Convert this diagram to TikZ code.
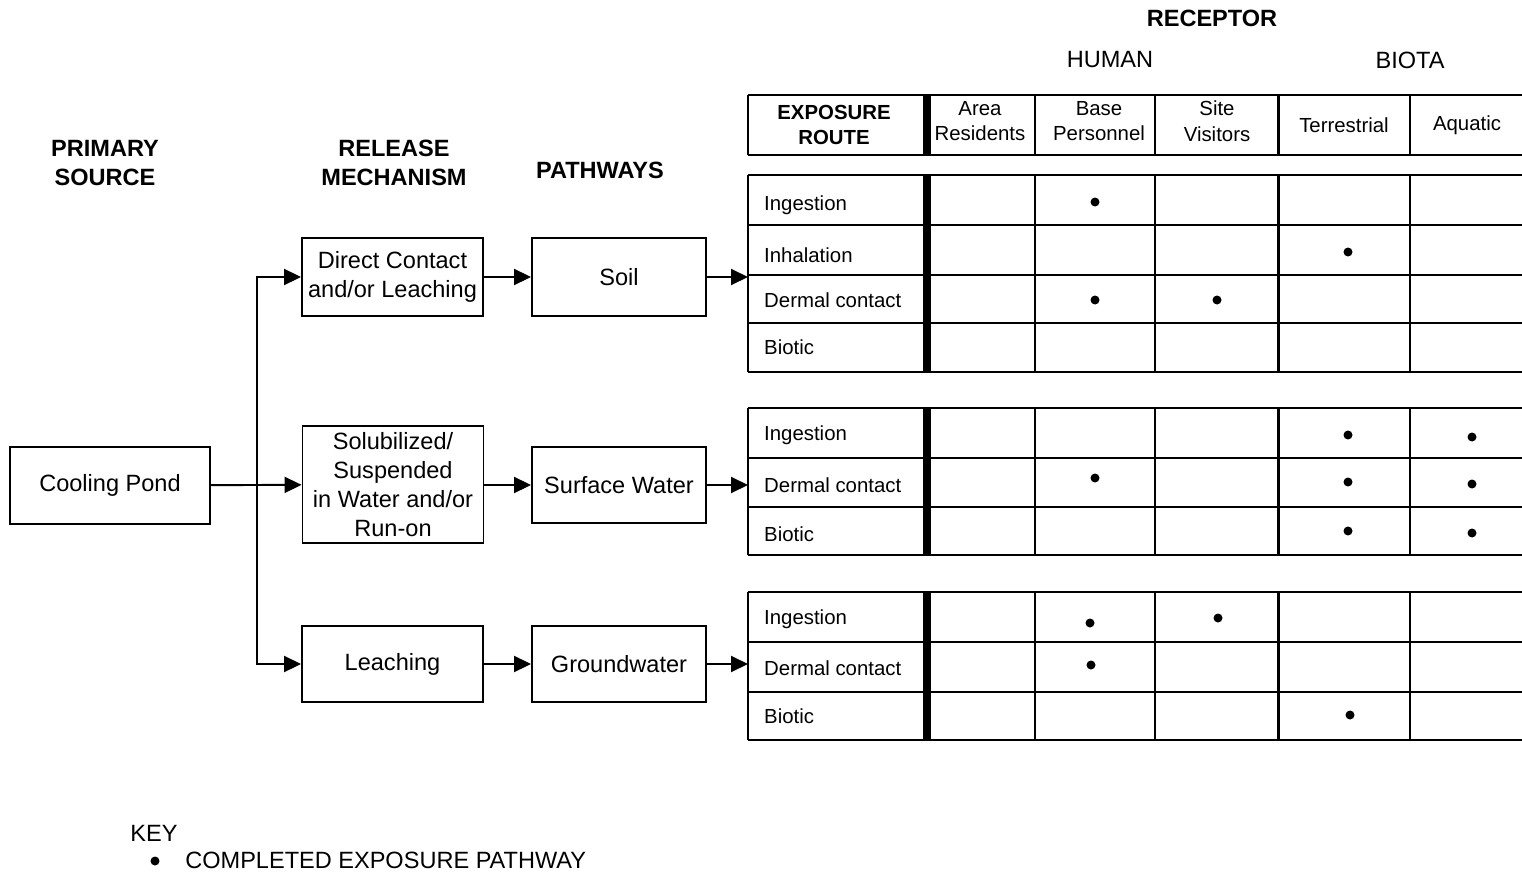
\documentclass[tikz,border=0pt]{standalone}
\usepackage{fontspec}
\setmainfont{Liberation Sans}
\usetikzlibrary{arrows.meta, positioning}

\begin{document}
\begin{tikzpicture}[
        x=0.02cm, y=-0.02cm,
        box/.style = {draw, line width=1.1pt, align=center, inner sep=1pt, font=\fontsize{13.4}{16.4}\selectfont},
        kopf/.style = {align=center, font=\bfseries\fontsize{13.4}{16.5}\selectfont},
        zelle/.style = {align=center, font=\fontsize{11.6}{14.7}\selectfont},
        route/.style = {anchor=west, font=\fontsize{11.6}{14}\selectfont},
        pfeil/.style = {-{Triangle[length=0.34cm, width=0.32cm]}, line width=1.1pt},
        linie/.style = {line width=1.1pt},
        balken/.style = {line width=4pt},
        mittel/.style = {line width=1.7pt},
        punkt/.style = {circle, fill, inner sep=0pt, minimum size=0.18cm, node contents={}}
    ]
    \useasboundingbox (0,0) rectangle (1522,872);

    %Ueberschriften
    \node (receptor) at (1212,18)[kopf]{RECEPTOR};
    \node (human) at (1110,60)[kopf, font=\fontsize{13.4}{16.5}\selectfont]{HUMAN};
    \node (biota) at (1410,60)[kopf, font=\fontsize{13.4}{16.5}\selectfont]{BIOTA};
    \node (source) at (105,163)[kopf]{PRIMARY\\SOURCE};
    \node (release) at (394,163)[kopf]{RELEASE\\MECHANISM};
    \node (pathways) at (600,170)[kopf]{PATHWAYS};

    %Kaesten
    \node (pond) at (110,485.5)[box, minimum width=4cm, minimum height=1.54cm]{Cooling Pond};
    \node (rel1) at (392.5,277)[box, minimum width=3.62cm, minimum height=1.56cm]{Direct Contact\\and/or Leaching};
    \node (rel2) at (393,484.5)[box, minimum width=3.62cm, minimum height=2.34cm]{Solubilized/\\Suspended\\in Water and/or\\Run-on};
    \node (rel3) at (392.5,664)[box, minimum width=3.62cm, minimum height=1.52cm]{Leaching};
    \node (soil) at (619,277)[box, minimum width=3.48cm, minimum height=1.56cm]{Soil};
    \node (water) at (619,485)[box, minimum width=3.48cm, minimum height=1.52cm]{Surface Water};
    \node (ground) at (619,664)[box, minimum width=3.48cm, minimum height=1.52cm]{Groundwater};

    \coordinate (bus) at (257,485.5);
    \coordinate (tab1) at (748,277);
    \coordinate (tab2) at (748,485);
    \coordinate (tab3) at (748,664);

    %Pfeile
    \draw[pfeil] (pond) -- (rel2);
    \draw[pfeil] (bus) |- (rel1.west);
    \draw[pfeil] (bus) |- (rel3.west);
    \draw[pfeil] (rel1) -- (soil);
    \draw[pfeil] (rel2.east |- water) -- (water);
    \draw[pfeil] (rel3) -- (ground);
    \draw[pfeil] (soil) -- (tab1);
    \draw[pfeil] (water) -- (tab2);
    \draw[pfeil] (ground) -- (tab3);

    %Tabellenkopf
    \foreach \y in {95,155} \draw[linie] (748,\y) -- (1522,\y);
    \foreach \x in {748,1035,1155,1410} \draw[linie] (\x,95) -- (\x,155);
    \draw[balken] (927,95) -- (927,155);
    \draw[mittel] (1278,95) -- (1278,155);
    \node (route) at (834,125)[zelle, font=\bfseries\fontsize{11.6}{14.7}\selectfont]{EXPOSURE\\ROUTE};
    \node (area) at (980,121)[zelle]{Area\\Residents};
    \node (base) at (1099,121)[zelle]{Base\\Personnel};
    \node (site) at (1217,121)[zelle]{Site\\Visitors};
    \node (terr) at (1344,125)[zelle]{Terrestrial};
    \node (aqua) at (1467,125)[zelle]{Aquatic};

    %Tabelle
    \foreach \oben/\unten in {175/372, 408/555, 592/740} {
        \draw[linie] (748,\oben) -- (1522,\oben) (748,\unten) -- (1522,\unten);
        \foreach \x in {748,1035,1155,1410} \draw[linie] (\x,\oben) -- (\x,\unten);
        \draw[balken] (927,\oben) -- (927,\unten);
        \draw[mittel] (1278,\oben) -- (1278,\unten);
    }
    \foreach \y in {225,275,323,458,507,642,692} \draw[linie] (748,\y) -- (1522,\y);

    \node (ing1) at (758,205)[route]{Ingestion};
    \node (inh1) at (758,255)[route]{Inhalation};
    \node (der1) at (758,300)[route]{Dermal contact};
    \node (bio1) at (758,347)[route]{Biotic};
    \node (ing2) at (758,435)[route]{Ingestion};
    \node (der2) at (758,485)[route]{Dermal contact};
    \node (bio2) at (758,534)[route]{Biotic};
    \node (ing3) at (758,619)[route]{Ingestion};
    \node (der3) at (758,668)[route]{Dermal contact};
    \node (bio3) at (758,716)[route]{Biotic};

    %Punkte
    \foreach \px/\py [count=\i] in {1095/202, 1348/252, 1095/300, 1217/300,
            1348/435, 1472/437, 1095/478, 1348/482, 1472/484, 1348/531, 1472/533,
            1090/623, 1218/618, 1091/665, 1350/715}
        \node (p\i) at (\px,\py)[punkt];

    %Legende
    \node (key) at (130,833)[anchor=west, inner sep=0pt, font=\fontsize{13.4}{16}\selectfont]{KEY};
    \node (keydot) at (155,861)[punkt];
    \node (keytext) at (185,860)[anchor=west, inner sep=0pt, font=\fontsize{13.4}{16}\selectfont]{COMPLETED EXPOSURE PATHWAY};

\end{tikzpicture}
\end{document}
